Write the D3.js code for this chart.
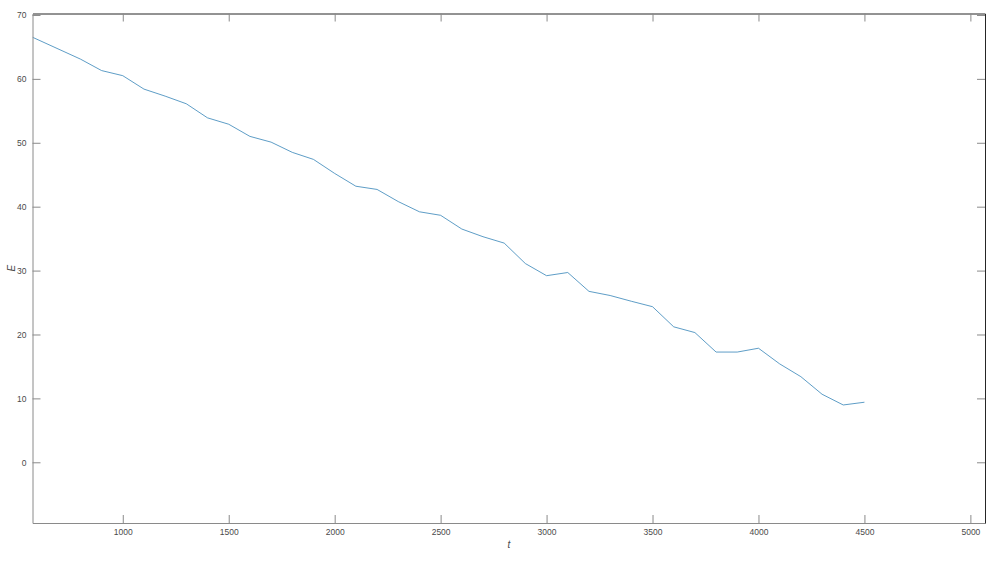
<!DOCTYPE html>
<html>
<head>
<meta charset="utf-8">
<script src="https://cdn.jsdelivr.net/npm/d3@7/dist/d3.min.js"></script>
<style>
  html, body { margin: 0; padding: 0; background: #fff; }
  svg { display: block; }
  text { font-family: "Liberation Sans", Arial, sans-serif; }
</style>
</head>
<body>
<svg id="chart" width="997" height="565"></svg>
<script>
// Data
const tValues = [575, 800, 900, 1000, 1100, 1200, 1300, 1400, 1500, 1600, 1700, 1800, 1900,
                 2000, 2100, 2200, 2300, 2400, 2500, 2600, 2700, 2800, 2900, 3000, 3100, 3200,
                 3300, 3400, 3500, 3600, 3700, 3800, 3900, 4000, 4100, 4200, 4300, 4400, 4500];
const eValues = [66.5, 63.1, 61.3, 60.5, 58.4, 57.3, 56.1, 53.9, 52.9, 51.0, 50.1, 48.5, 47.4,
                 45.2, 43.2, 42.7, 40.8, 39.2, 38.65, 36.5, 35.3, 34.3, 31.1, 29.2, 29.7, 26.75,
                 26.1, 25.2, 24.35, 21.2, 20.3, 17.25, 17.25, 17.85, 15.4, 13.4, 10.65, 8.97, 9.4];
const xTicks = [1000, 1500, 2000, 2500, 3000, 3500, 4000, 4500, 5000];
const yTicks = [0, 10, 20, 30, 40, 50, 60, 70];
const xLabel = "t";
const yLabel = "E";

const svg = d3.select("#chart");
const L = 32.5, R = 985, T = 13.5, B = 523;
const x = d3.scaleLinear().domain([574, 5069]).range([L, R]);
const y = d3.scaleLinear().domain([-9.5, 70.23]).range([B, T]);

const axisGrey = "#8a8a8a";
const axisDark = "#262626";
const labelCol = "#4a4a4a";
const tickLen = 8;
const fmt = d3.format("d");

// Data line
const data = tValues.map((t, i) => ({ t, e: eValues[i] }));
svg.append("path")
  .datum(data)
  .attr("fill", "none")
  .attr("stroke", "#3584b8")
  .attr("stroke-width", 0.8)
  .attr("d", d3.line().x(d => x(d.t)).y(d => y(d.e)));

// Bottom axis
const gB = svg.append("g").attr("transform", `translate(0,${B})`)
  .call(d3.axisBottom(x).tickValues(xTicks).tickFormat(fmt).tickSizeInner(-tickLen).tickSizeOuter(0).tickPadding(6));
gB.select(".domain").attr("stroke", axisGrey);
gB.selectAll(".tick line").attr("stroke", axisGrey);
gB.selectAll(".tick text").attr("fill", labelCol).style("font-size", "8.5px");

// Top axis
const gT = svg.append("g").attr("transform", `translate(0,${T})`)
  .call(d3.axisTop(x).tickValues(xTicks).tickSizeInner(-tickLen).tickSizeOuter(0).tickFormat(""));
gT.select(".domain").attr("stroke", axisDark);
gT.selectAll(".tick line").attr("stroke", axisGrey);

// Left axis
const gL = svg.append("g").attr("transform", `translate(${L},0)`)
  .call(d3.axisLeft(y).tickValues(yTicks).tickFormat(fmt).tickSizeInner(-tickLen).tickSizeOuter(0).tickPadding(6));
gL.select(".domain").attr("stroke", axisGrey);
gL.selectAll(".tick line").attr("stroke", axisGrey);
gL.selectAll(".tick text").attr("fill", labelCol).style("font-size", "8.5px");

// Right axis
const gR = svg.append("g").attr("transform", `translate(${R},0)`)
  .call(d3.axisRight(y).tickValues(yTicks).tickSizeInner(-tickLen).tickSizeOuter(0).tickFormat(""));
gR.select(".domain").attr("stroke", axisDark);
gR.selectAll(".tick line").attr("stroke", axisGrey);

// Axis labels
svg.append("text")
  .attr("x", 509)
  .attr("y", 548)
  .attr("text-anchor", "middle")
  .attr("font-style", "italic")
  .attr("fill", labelCol)
  .style("font-size", "10px")
  .text(xLabel);

svg.append("text")
  .attr("transform", `translate(14.5,${(T + B) / 2}) rotate(-90)`)
  .attr("text-anchor", "middle")
  .attr("font-style", "italic")
  .attr("fill", labelCol)
  .style("font-size", "10px")
  .text(yLabel);
</script>
</body>
</html>
